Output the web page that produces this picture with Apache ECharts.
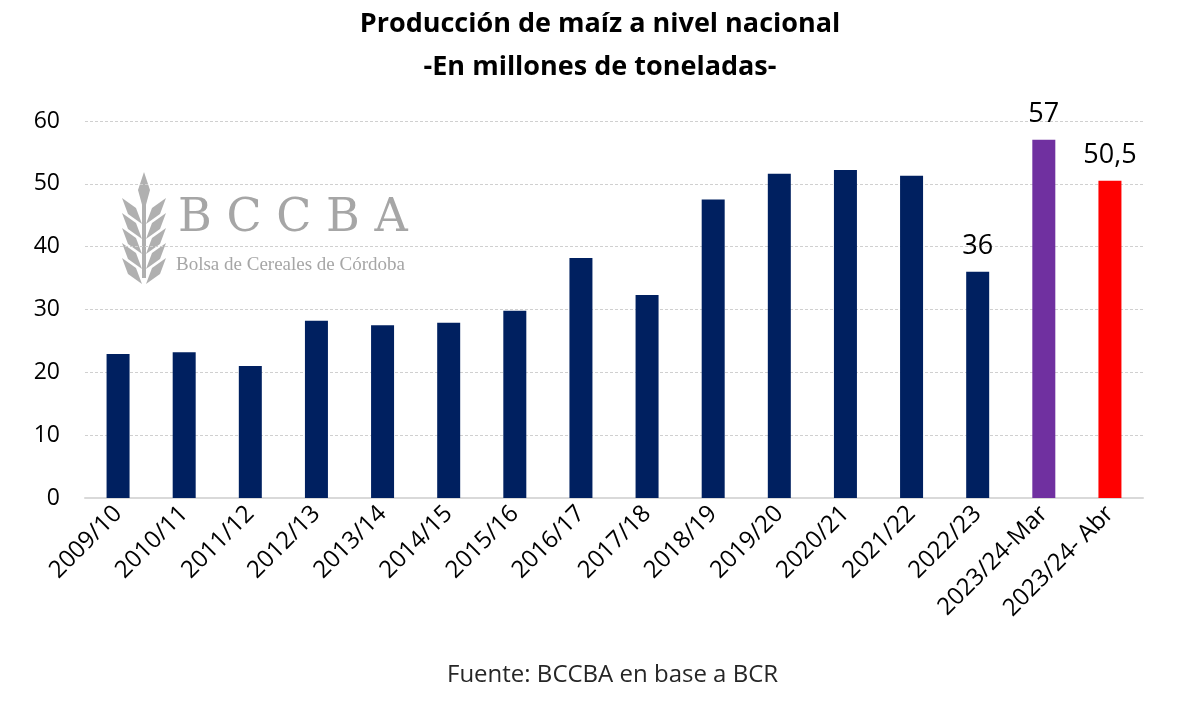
<!DOCTYPE html>
<html>
<head>
<meta charset="utf-8">
<script src="https://cdn.jsdelivr.net/npm/echarts@6/dist/echarts.min.js"></script>
<style>
  html, body { margin: 0; padding: 0; background: #fff; }
  #chart { width: 1200px; height: 702px; }
</style>
</head>
<body>
<div id="chart"></div>
<script>
// campañas
const campanias = ['2009/10', '2010/11', '2011/12', '2012/13', '2013/14', '2014/15', '2015/16',
  '2016/17', '2017/18', '2018/19', '2019/20', '2020/21', '2021/22', '2022/23',
  '2023/24-Mar', '2023/24- Abr'];
// producción, millones de toneladas
const produccion = [22.9, 23.2, 21.0, 28.2, 27.5, 27.9, 29.8, 38.2, 32.3, 47.5, 51.6, 52.2, 51.3, 36, 57, 50.5];
const coloresBarra = ['#002060', '#002060', '#002060', '#002060', '#002060', '#002060', '#002060',
  '#002060', '#002060', '#002060', '#002060', '#002060', '#002060', '#002060', '#7030a0', '#ff0000'];
// solo se etiquetan las últimas tres
const conEtiqueta = [13, 14, 15];
const yTicks = [0, 10, 20, 30, 40, 50, 60];

const fuente = "'Open Sans', 'Noto Sans', sans-serif";
const chart = echarts.init(document.getElementById('chart'));

const datos = produccion.map((v, i) => ({
  value: v,
  itemStyle: { color: coloresBarra[i] },
  label: { show: conEtiqueta.includes(i) }
}));

// hoja de trigo (marca de agua)
const gris = '#b0b0b0';
const hojas = [];
for (let k = 0; k < 5; k++) {
  const y = 212 + k * 15;
  hojas.push({ type: 'polygon', silent: true, style: { fill: gris },
    shape: { points: [[142, y + 12], [128, y + 2], [122, y - 14], [136, y - 4]] } });
  hojas.push({ type: 'polygon', silent: true, style: { fill: gris },
    shape: { points: [[146, y + 12], [160, y + 2], [166, y - 14], [152, y - 4]] } });
}

chart.setOption({
  backgroundColor: '#fff',
  animation: false,
  title: {
    text: 'Producción de maíz a nivel nacional\n-En millones de toneladas-',
    left: 'center',
    top: -2,
    textStyle: { fontFamily: fuente, fontWeight: 'bold', fontSize: 27, color: '#000', lineHeight: 43 }
  },
  graphic: [
    ...hojas,
    { type: 'rect', shape: { x: 142, y: 190, width: 4, height: 88 }, style: { fill: gris }, silent: true },
    { type: 'polygon', silent: true, style: { fill: gris },
      shape: { points: [[144, 172], [150, 190], [144, 212], [138, 190]] } },
    { type: 'text', left: 178, top: 196, silent: true,
      style: { text: 'B C C B A', font: '46px "DejaVu Serif", "Liberation Serif", serif', fill: '#a6a6a6' } },
    { type: 'text', left: 176, top: 256, silent: true,
      style: { text: 'Bolsa de Cereales de Córdoba', font: '19px "Liberation Serif", serif', fill: '#a6a6a6' } },
    { type: 'text', left: 447, top: 663, silent: true,
      style: { text: 'Fuente: BCCBA en base a BCR', font: '24px ' + fuente, fill: '#262626' } }
  ],
  grid: { left: 85, right: 57, top: 121, bottom: 204, containLabel: false },
  xAxis: {
    type: 'category',
    data: campanias,
    axisLine: { lineStyle: { color: '#d9d9d9', width: 2 } },
    axisTick: { show: false },
    axisLabel: { rotate: 45, fontFamily: fuente, fontSize: 24, color: '#000', margin: 12, interval: 0 }
  },
  yAxis: {
    type: 'value',
    min: 0,
    max: 60,
    interval: 10,
    axisLine: { show: false },
    axisTick: { show: false },
    axisLabel: { fontFamily: fuente, fontSize: 23, color: '#000', margin: 25,
      formatter: v => yTicks.includes(v) ? String(v) : '' },
    splitLine: { lineStyle: { color: '#d0d0d0', type: [3, 2], width: 1 } }
  },
  series: [{
    type: 'bar',
    data: datos,
    barWidth: 23,
    label: {
      position: 'top',
      distance: 12,
      fontFamily: fuente,
      fontSize: 27,
      color: '#000',
      formatter: p => String(p.value).replace('.', ',')
    }
  }]
});
</script>
</body>
</html>
